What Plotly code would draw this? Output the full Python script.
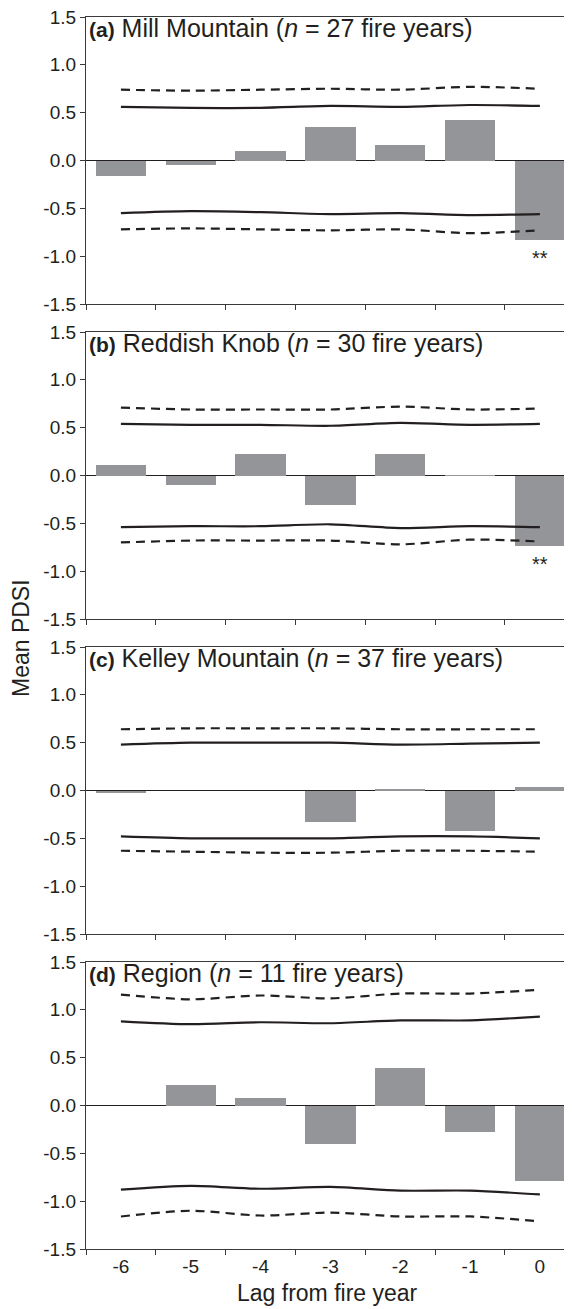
import plotly.graph_objects as go
from plotly.subplots import make_subplots

lags = ["-6", "-5", "-4", "-3", "-2", "-1", "0"]
y_ticks = [-1.5, -1.0, -0.5, 0.0, 0.5, 1.0, 1.5]
y_tick_labels = ["-1.5", "-1.0", "-0.5", "0.0", "0.5", "1.0", "1.5"]

# Panel (a) Mill Mountain
a_mean = [-0.16, -0.05, 0.10, 0.35, 0.16, 0.42, -0.83]
a_up95 = [0.56, 0.55, 0.55, 0.57, 0.56, 0.58, 0.57]
a_up99 = [0.74, 0.73, 0.74, 0.75, 0.74, 0.77, 0.75]
a_lo95 = [-0.55, -0.53, -0.54, -0.56, -0.55, -0.57, -0.56]
a_lo99 = [-0.72, -0.71, -0.72, -0.73, -0.72, -0.76, -0.73]
a_sig = ["", "", "", "", "", "", "**"]

# Panel (b) Reddish Knob
b_mean = [0.11, -0.10, 0.22, -0.31, 0.23, 0.005, -0.74]
b_up95 = [0.54, 0.53, 0.53, 0.52, 0.55, 0.53, 0.54]
b_up99 = [0.71, 0.69, 0.69, 0.69, 0.72, 0.69, 0.70]
b_lo95 = [-0.54, -0.53, -0.53, -0.51, -0.55, -0.53, -0.54]
b_lo99 = [-0.70, -0.68, -0.68, -0.68, -0.72, -0.67, -0.69]
b_sig = ["", "", "", "", "", "", "**"]

# Panel (c) Kelley Mountain
c_mean = [-0.03, 0.0, 0.0, -0.33, 0.02, -0.42, 0.04]
c_up95 = [0.48, 0.50, 0.50, 0.50, 0.48, 0.49, 0.50]
c_up99 = [0.64, 0.65, 0.65, 0.65, 0.64, 0.64, 0.64]
c_lo95 = [-0.48, -0.50, -0.50, -0.50, -0.48, -0.48, -0.50]
c_lo99 = [-0.63, -0.64, -0.65, -0.65, -0.63, -0.63, -0.64]
c_sig = ["", "", "", "", "", "", ""]

# Panel (d) Region
d_mean = [0.0, 0.21, 0.08, -0.40, 0.39, -0.28, -0.79]
d_up95 = [0.88, 0.85, 0.87, 0.86, 0.89, 0.89, 0.93]
d_up99 = [1.16, 1.11, 1.15, 1.12, 1.17, 1.17, 1.21]
d_lo95 = [-0.88, -0.84, -0.87, -0.85, -0.89, -0.89, -0.93]
d_lo99 = [-1.16, -1.10, -1.15, -1.12, -1.16, -1.16, -1.21]
d_sig = ["", "", "", "", "", "", ""]

panels = [
    ("(a)", "Mill Mountain (<i>n</i> = 27 fire years)", a_mean, a_up95, a_up99, a_lo95, a_lo99, a_sig),
    ("(b)", "Reddish Knob (<i>n</i> = 30 fire years)", b_mean, b_up95, b_up99, b_lo95, b_lo99, b_sig),
    ("(c)", "Kelley Mountain (<i>n</i> = 37 fire years)", c_mean, c_up95, c_up99, c_lo95, c_lo99, c_sig),
    ("(d)", "Region (<i>n</i> = 11 fire years)", d_mean, d_up95, d_up99, d_lo95, d_lo99, d_sig),
]

TXT = "#231f20"
AX = "#3a3a3a"
BAR = "#939598"
FONT = "Liberation Sans, Arial, sans-serif"

# page body has an 8px default margin; figure is sized to fit the 572x1309 window
W, H = 564, 1301
ML, MR, MT, MB = 78, 0, 9, 60
plot_h = H - MT - MB
plot_w = W - ML - MR
gap = 28

fig = make_subplots(rows=4, cols=1, vertical_spacing=gap / plot_h)

for i, (tag, title, mean, up95, up99, lo95, lo99, sig) in enumerate(panels):
    r = i + 1
    fig.add_trace(go.Bar(x=lags, y=mean, width=0.72, marker=dict(color=BAR, line=dict(width=0)),
                         showlegend=False), row=r, col=1)
    for series, dash in [(up99, "9px,6px"), (up95, "solid"), (lo95, "solid"), (lo99, "9px,6px")]:
        fig.add_trace(go.Scatter(x=lags, y=series, mode="lines",
                                 line=dict(color=TXT, width=2.2, dash=dash, shape="spline", smoothing=0.8),
                                 showlegend=False), row=r, col=1)
    xref = "x domain" if r == 1 else f"x{r} domain"
    yref = "y domain" if r == 1 else f"y{r} domain"
    fig.add_annotation(xref=xref, yref=yref, x=0.003, y=1 - 11 / 287, xanchor="left", yanchor="middle",
                       text=f"<span style='font-size:21px'><b>{tag}</b></span> {title}",
                       showarrow=False, font=dict(family=FONT, size=25, color=TXT))
    xa = "x" if r == 1 else f"x{r}"
    ya = "y" if r == 1 else f"y{r}"
    for k, (yv, s) in enumerate(zip(mean, sig)):
        if s:
            # category axis: annotation x given as the category index
            fig.add_annotation(xref=xa, yref=ya, x=k, y=yv - 0.19, text=s, showarrow=False,
                               xanchor="center", yanchor="middle",
                               font=dict(family=FONT, size=20, color=TXT))
    fig.update_xaxes(row=r, col=1, type="category", range=[-0.5, 6.46], showline=True, linecolor=AX,
                     linewidth=1.3, mirror=True, showgrid=False, zeroline=False,
                     ticks="outside", tickson="boundaries", ticklen=5, tickwidth=1.3, tickcolor=AX,
                     showticklabels=(r == 4), ticklabeloverflow="allow",
                     tickfont=dict(family=FONT, size=19, color=TXT))
    fig.update_yaxes(row=r, col=1, range=[-1.5, 1.5], showline=True, linecolor=AX, linewidth=1.3,
                     mirror=False, showgrid=False, zeroline=True, zerolinecolor=TXT, zerolinewidth=1.2,
                     tickmode="array", tickvals=y_ticks, ticktext=y_tick_labels,
                     ticks="outside", ticklen=5, tickwidth=1.3, tickcolor=AX, ticklabeloverflow="allow",
                     tickfont=dict(family=FONT, size=19, color=TXT))

fig.add_annotation(xref="paper", yref="paper", x=(13 - ML) / plot_w, y=(H - MB - 630) / plot_h,
                   text="Mean PDSI", textangle=-90, showarrow=False, xanchor="center", yanchor="middle",
                   font=dict(family=FONT, size=23, color=TXT))
fig.add_annotation(xref="paper", yref="paper", x=(319 - ML) / plot_w, y=-(1285 - (H - MB)) / plot_h,
                   text="Lag from fire year", showarrow=False, xanchor="center", yanchor="middle",
                   font=dict(family=FONT, size=23, color=TXT))

fig.update_layout(width=W, height=H, margin=dict(l=ML, r=MR, t=MT, b=MB),
                  plot_bgcolor="white", paper_bgcolor="white", bargap=0, showlegend=False,
                  font=dict(family=FONT, color=TXT))

fig.write_html("out.html")
